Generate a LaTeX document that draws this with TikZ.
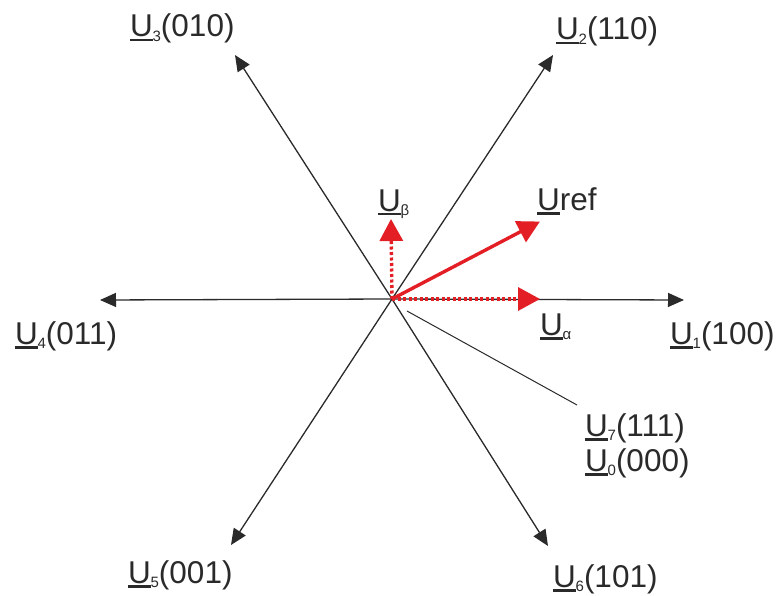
\documentclass[tikz,border=0pt]{standalone}
\usepackage{fontspec}
\setmainfont{Liberation Sans}
\usetikzlibrary{arrows.meta}
\definecolor{vred}{HTML}{E31E24}
\definecolor{vblk}{HTML}{2A2A2A}
\newcommand\uU{\setbox0\hbox{U}\rlap{\rule[-4.5pt]{\wd0}{2.2pt}}U}
\newcommand\Ulab[2]{\uU\kern-0.3pt\raisebox{-4.5pt}{\fontsize{15}{15}\selectfont #1}#2}
\begin{document}
\begin{tikzpicture}[x=1pt,y=-1pt,
  vec/.style={draw=vblk,line width=1.3pt,-{Triangle[length=16pt,width=14pt]}},
  redvec/.style={draw=vred,line width=3.4pt,-{Triangle[length=22pt,width=23pt]},shorten >=-1pt},
  reddot/.style={draw=vred,line width=3.4pt,dash pattern=on 3pt off 2.5pt,-{Triangle[length=22pt,width=23pt]}},
  lab/.style={anchor=base west,inner sep=0pt,text=vblk,font=\fontsize{31.5}{34}\selectfont}]
\useasboundingbox (0,0) rectangle (778,596);
\coordinate (O) at (392,299);
\coordinate (t1) at (684,300);
\coordinate (t4) at (100,300);
\coordinate (t2) at (553,55);
\coordinate (t3) at (235,55);
\coordinate (t5) at (231,545);
\coordinate (t6) at (548,546);
\coordinate (zs) at (407,311);
\coordinate (ze) at (577,405);
\coordinate (tr) at (539,222);
\coordinate (ta) at (540,299);
\coordinate (tb) at (391,219);
\draw[vec] (O) -- (t1);
\draw[vec] (O) -- (t4);
\draw[vec] (O) -- (t2);
\draw[vec] (O) -- (t3);
\draw[vec] (O) -- (t5);
\draw[vec] (O) -- (t6);
\draw[draw=vblk,line width=1pt] (zs) -- (ze);
\draw[reddot] (O) -- (ta);
\draw[reddot] (O) -- (tb);
\draw[redvec] (O) -- (tr);
\node[lab] (l3) at (130,37) {\Ulab{3}{(010)}};
\node[lab] (l2) at (556,40) {\Ulab{2}{(110)}};
\node[lab] (lb) at (378,211) {\Ulab{β}{}};
\node[lab] (lr) at (537,210) {\uU ref};
\node[lab] (l4) at (15,344) {\Ulab{4}{(011)}};
\node[lab] (la) at (540,335) {\Ulab{α}{}};
\node[lab] (l1) at (670,344) {\Ulab{1}{(100)}};
\node[lab] (l7) at (585,436) {\Ulab{7}{(111)}};
\node[lab] (l0) at (585,471) {\Ulab{0}{(000)}};
\node[lab] (l5) at (128,583) {\Ulab{5}{(001)}};
\node[lab] (l6) at (553,587) {\Ulab{6}{(101)}};
\end{tikzpicture}
\end{document}
